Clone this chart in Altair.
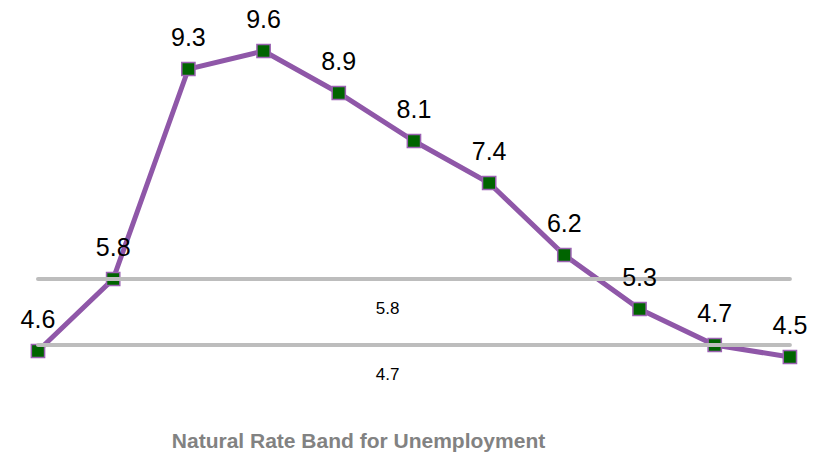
import altair as alt
import pandas as pd

values = [4.6, 5.8, 9.3, 9.6, 8.9, 8.1, 7.4, 6.2, 5.3, 4.7, 4.5]
idx = list(range(len(values)))
band_values = [5.8, 4.7]
band_labels = ["5.8", "4.7"]

df = pd.DataFrame({"i": idx, "v": values, "label": [f"{v:.1f}" for v in values]})
bands = pd.DataFrame({"v": band_values, "label": band_labels,
                      "x0": [0] * 2, "x1": [len(values) - 1] * 2, "xm": [4.65] * 2})

xs = alt.Scale(domain=[-0.505, 10.44], nice=False, zero=False)
ys = alt.Scale(domain=[3.45, 10.45], nice=False, zero=False)
X = alt.X("i:Q", scale=xs, axis=None)
Y = alt.Y("v:Q", scale=ys, axis=None)

line = alt.Chart(df).mark_line(color="#8f57a8", strokeWidth=5).encode(x=X, y=Y)
pts = alt.Chart(df).mark_point(shape="square", filled=True, fill="#006400",
                               stroke="#9b62b2", strokeWidth=1.5, size=175, opacity=1).encode(x=X, y=Y)
rules = alt.Chart(bands).mark_rule(color="#bdbdbd", strokeWidth=4, strokeCap="round").encode(
    x=alt.X("x0:Q", scale=xs, axis=None), x2="x1:Q", y=alt.Y("v:Q", scale=ys, axis=None))
rule_labels = alt.Chart(bands).mark_text(font="Liberation Sans", fontSize=17, dy=30,
                                         color="#000000", baseline="middle").encode(
    x=alt.X("xm:Q", scale=xs, axis=None), y=alt.Y("v:Q", scale=ys, axis=None), text="label:N")
pt_labels = alt.Chart(df).mark_text(font="Liberation Sans", fontSize=25, dy=-31,
                                    color="#000000", baseline="middle").encode(x=X, y=Y, text="label:N")

chart = alt.layer(line, pts, rules, rule_labels, pt_labels).properties(
    width=823, height=420,
    title=alt.TitleParams("Natural Rate Band for Unemployment", orient="bottom", anchor="middle",
                          dx=-53, offset=11, font="Liberation Sans", fontSize=21,
                          fontWeight="bold", color="#828282"),
    autosize=alt.AutoSizeParams(type="none"),
    padding={"left": 0, "top": 0, "right": 0, "bottom": 36},
).configure_view(stroke=None)

chart.save("out.html", embed_options={"renderer": "svg", "actions": False})
